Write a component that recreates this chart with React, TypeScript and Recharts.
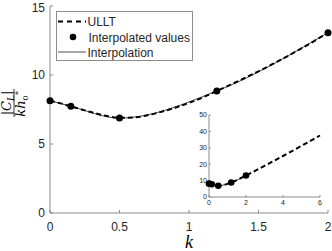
import { ComposedChart, Line, Scatter, XAxis, YAxis } from 'recharts';

// ULLT curve (main view, 0..2)
const ulltK = [0, 0.1, 0.2, 0.3, 0.4, 0.5, 0.6, 0.7, 0.8, 0.9, 1.0, 1.1, 1.2, 1.3, 1.4, 1.5, 1.6, 1.7, 1.8, 1.9, 2.0];
const ulltCl = [8.14, 7.88, 7.58, 7.3, 7.05, 6.9, 6.92, 7.08, 7.33, 7.63, 7.98, 8.38, 8.84, 9.3, 9.78, 10.27, 10.78, 11.32, 11.88, 12.46, 13.07];

// ULLT curve (inset, 0..6)
const ulltWideK = [0, 0.25, 0.5, 0.75, 1, 1.5, 2, 3, 4, 5, 6];
const ulltWideCl = [8.14, 7.4, 6.9, 7.2, 7.98, 10.27, 13.07, 19.0, 25.0, 31.2, 37.5];

// interpolated values
const interpK = [0, 0.15, 0.5, 1.2, 2];
const interpCl = [8.14, 7.73, 6.88, 8.84, 13.07];

const xTicks = [0, 0.5, 1, 1.5, 2];
const yTicks = [0, 5, 10, 15];
const insetXTicks = [0, 2, 4, 6];
const insetYTicks = [0, 10, 20, 30, 40, 50];

const ulltData = ulltK.map((k, i) => ({ k, v: ulltCl[i] }));
const ulltWideData = ulltWideK.map((k, i) => ({ k, v: ulltWideCl[i] }));
const interpData = interpK.map((k, i) => ({ k, v: interpCl[i] }));

const AXIS = '#8a8a8a';
const TXT = '#262626';
const FONT = 'Arial, "Liberation Sans", Helvetica, sans-serif';

const YLabel = (props: any) => {
  const vb = props.viewBox;
  const cx = vb.x + 14;
  const cy = vb.y + vb.height / 2 - 6.5;
  return (
    <g transform={`translate(${cx},${cy}) rotate(-90)`} fontFamily="'DejaVu Serif', 'Liberation Serif', serif" fill="#000">
      <text x={0} y={-3} textAnchor="middle" fontSize={13}>
        <tspan>|</tspan>
        <tspan fontStyle="italic">C</tspan>
        <tspan fontStyle="italic" fontSize={9} dy={3}>L</tspan>
        <tspan dy={-3}>|</tspan>
      </text>
      <line x1={-14} x2={14} y1={0} y2={0} stroke="#000" strokeWidth={0.8} />
      <text x={-3} y={11} textAnchor="middle" fontSize={13}>
        <tspan fontStyle="italic">kh</tspan>
        <tspan fontSize={8} dy={3}>0</tspan>
      </text>
      <text x={8} y={7} fontSize={8}>*</text>
    </g>
  );
};

const XLabel = (props: any) => {
  const vb = props.viewBox;
  return (
    <text x={vb.x + vb.width / 2} y={248} textAnchor="middle" fontSize={18} fontStyle="italic" fontFamily="'Liberation Serif', 'DejaVu Serif', serif" fill="#000">
      k
    </text>
  );
};

const LegendBox = () => (
  <div
    style={{
      position: 'absolute',
      left: 56,
      top: 11,
      width: 135,
      height: 48,
      zIndex: 2,
      background: '#fff',
      border: '1px solid #8c8c8c',
    }}
  >
    <svg width={135} height={48} style={{ display: 'block' }} fontFamily={FONT}>
      <line x1={1} x2={29} y1={9.5} y2={9.5} stroke="#000" strokeWidth={2} strokeDasharray="5 4" />
      <circle cx={16} cy={25} r={3.3} fill="#000" />
      <line x1={1} x2={29} y1={40} y2={40} stroke="#000" strokeWidth={0.7} />
      <text x={30.5} y={14} fontSize={12} fill={TXT}>ULLT</text>
      <text x={31.5} y={29.5} fontSize={12} fill={TXT}>Interpolated values</text>
      <text x={30.5} y={44.5} fontSize={12} fill={TXT}>Interpolation</text>
    </svg>
  </div>
);

const Inset = () => (
  <div style={{ position: 'absolute', left: 190, top: 108, width: 135, height: 100 }}>
    <ComposedChart width={135} height={100} margin={{ top: 7, right: 5, bottom: 0, left: 0 }}>
      <XAxis
        xAxisId="b"
        dataKey="k"
        type="number"
        domain={[0, 6]}
        ticks={insetXTicks}
        height={11}
        tickSize={-2}
        tickMargin={5}
        stroke={AXIS}
        tick={{ fontSize: 7, fill: TXT, fontFamily: FONT }}
      />
      <XAxis xAxisId="t" orientation="top" dataKey="k" type="number" domain={[0, 6]} ticks={insetXTicks} height={0} tickSize={-2} stroke={AXIS} tickFormatter={() => ''} />
      <YAxis
        yAxisId="l"
        type="number"
        domain={[0, 50]}
        ticks={insetYTicks}
        width={19}
        tickSize={-2}
        tickMargin={4}
        stroke={AXIS}
        tick={{ fontSize: 7, fill: TXT, fontFamily: FONT }}
      />
      <YAxis yAxisId="r" orientation="right" type="number" domain={[0, 50]} ticks={insetYTicks} width={0} tickSize={-2} stroke={AXIS} tickFormatter={() => ''} />
      <Line xAxisId="b" yAxisId="l" data={ulltWideData} dataKey="v" type="monotone" stroke="#000" strokeWidth={2} strokeDasharray="5 3" dot={false} isAnimationActive={false} />
      <Line xAxisId="b" yAxisId="l" data={interpData} dataKey="v" type="monotone" stroke="#000" strokeWidth={0.7} dot={false} isAnimationActive={false} />
      <Scatter xAxisId="b" yAxisId="l" data={interpData} dataKey="v" fill="#000" shape={(p: any) => <circle cx={p.cx} cy={p.cy} r={3.3} fill="#000" />} isAnimationActive={false} />
    </ComposedChart>
  </div>
);

export default function App() {
  return (
    <div style={{ position: 'absolute', left: 0, top: 0, width: 332, height: 251, background: '#fff' }}>
      <ComposedChart width={332} height={251} margin={{ top: 6, right: 4, bottom: 0, left: 0 }}>
        <XAxis
          xAxisId="b"
          dataKey="k"
          type="number"
          domain={[0, 2]}
          ticks={xTicks}
          height={38}
          tickSize={-3}
          tickMargin={12}
          stroke={AXIS}
          tick={{ fontSize: 12, fill: TXT, fontFamily: FONT }}
          label={{ content: XLabel }}
        />
        <XAxis xAxisId="t" orientation="top" dataKey="k" type="number" domain={[0, 2]} ticks={xTicks} height={0} tickSize={-3} stroke={AXIS} tickFormatter={() => ''} />
        <YAxis
          yAxisId="l"
          type="number"
          domain={[0, 15]}
          ticks={yTicks}
          width={50}
          tickSize={-3}
          tickMargin={8}
          stroke={AXIS}
          tick={{ fontSize: 12, fill: TXT, fontFamily: FONT }}
          label={{ content: YLabel }}
        />
        <YAxis yAxisId="r" orientation="right" type="number" domain={[0, 15]} ticks={yTicks} width={0} tickSize={-3} stroke={AXIS} tickFormatter={() => ''} />
        <Line xAxisId="b" yAxisId="l" data={ulltData} dataKey="v" name="ULLT" type="monotone" stroke="#000" strokeWidth={2} strokeDasharray="5 3" dot={false} isAnimationActive={false} />
        <Line xAxisId="b" yAxisId="l" data={interpData} dataKey="v" name="Interpolation" type="monotone" stroke="#000" strokeWidth={0.7} dot={false} isAnimationActive={false} />
        <Scatter xAxisId="b" yAxisId="l" data={interpData} dataKey="v" name="Interpolated values" fill="#000" shape={(p: any) => <circle cx={p.cx} cy={p.cy} r={3.5} fill="#000" />} isAnimationActive={false} />
      </ComposedChart>
      <LegendBox />
      <Inset />
    </div>
  );
}
